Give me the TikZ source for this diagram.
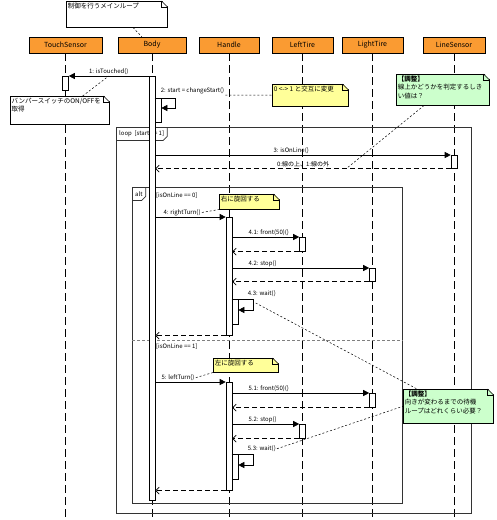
\documentclass[tikz,border=0pt]{standalone}
\usepackage{fontspec}
\setmainfont{Noto Sans CJK JP}
\usetikzlibrary{positioning,arrows.meta,calc}

\definecolor{headfill}{RGB}{250,155,50}
\definecolor{memoyellow}{RGB}{255,255,153}
\definecolor{memogreen}{RGB}{204,255,204}

\newcommand{\hdfont}{\fontsize{7}{8}\selectfont}
\newcommand{\msgfont}{\fontsize{6}{7}\selectfont}
\newcommand{\memofont}{\fontsize{6.5}{8.5}\selectfont}
\newcommand{\memotext}[3]{\parbox[c][#2][t]{#1}{\raggedright #3}}
% folded corner of a memo
\newcommand{\memofold}[1]{%
  \fill[white] ($(#1.north east)+(-6,-1)$) -- ($(#1.north east)+(1,-1)$) -- ($(#1.north east)+(1,6)$) -- cycle;
  \draw[line width=0.5pt] ($(#1.north east)+(-6,0)$) -- ($(#1.north east)+(0,6)$);
  \draw[line width=0.5pt] ($(#1.north east)+(-6,0)$) -- ($(#1.north east)+(-6,6)$) -- ($(#1.north east)+(0,6)$);}

\begin{document}
\begin{tikzpicture}[
    x=1pt, y=-1pt,
    head/.style={draw, line width=0.7pt, fill=headfill, minimum height=16, inner sep=1pt, font=\hdfont},
    life/.style={line width=0.7pt, dash pattern=on 8pt off 4pt},
    act/.style={draw, line width=0.6pt, fill=white, minimum width=6, inner sep=0, anchor=north},
    call/.style={-{Triangle[length=6pt,width=6pt]}, line width=0.6pt},
    ret/.style={-{Straight Barb[length=3.5pt,width=7pt]}, line width=0.6pt, dash pattern=on 5pt off 3pt},
    lbl/.style={font=\msgfont, inner sep=1pt},
    link/.style={line width=0.5pt, dash pattern=on 2pt off 2pt},
    frm/.style={draw, line width=0.7pt, black!80, inner sep=0, anchor=north west},
    frline/.style={line width=0.7pt, black!80},
    tag/.style={font=\msgfont, inner sep=2pt, inner xsep=3pt, minimum height=13, anchor=north west},
    sepline/.style={line width=0.7pt, black!50, dash pattern=on 3pt off 2pt},
    memo/.style={draw, line width=0.5pt, inner sep=1.5pt, anchor=north west, font=\memofont}
]
\useasboundingbox (0,0) rectangle (497,520);

% =========================================================
% Lifelines
% =========================================================
\node[head, minimum width=73] (touch)      at (65.5,45)  {TouchSensor};
\node[head, minimum width=68] (body)       at (152,45)   {Body};
\node[head, minimum width=60] (handle)     at (229,45)   {Handle};
\node[head, minimum width=61] (lefttire)   at (302.5,45) {LeftTire};
\node[head, minimum width=61] (lighttire)  at (372.5,45) {LightTire};
\node[head, minimum width=62] (linesensor) at (454,45)   {LineSensor};

\coordinate (bottom) at (0,520);
\foreach \h in {touch,body,handle,lefttire,lighttire,linesensor}
  \draw[life] (\h.south) -- (\h.south |- bottom);

% =========================================================
% Combined fragments
% =========================================================
\node[frm, minimum width=355, minimum height=386] (loop) at (116,127) {};
\node[tag] (loop_t) at (loop.north west) {loop\ \ [start == 1]};
\draw[frline] (loop_t.north east) -- ($(loop_t.south east)+(0,-4)$) -- ($(loop_t.south east)+(-4,0)$) -- (loop_t.south west);

\node[frm, minimum width=270, minimum height=316] (alt) at (132,187) {};
\node[tag] (alt_t) at (alt.north west) {alt};
\draw[frline] (alt_t.north east) -- ($(alt_t.south east)+(0,-4)$) -- ($(alt_t.south east)+(-4,0)$) -- (alt_t.south west);
\node[lbl, anchor=west] (g0) at (155,196) {[isOnLine == 0]};
\coordinate (alt_sep) at (132,340);
\draw[sepline] (alt_sep) -- (alt_sep -| alt.east);
\node[lbl, anchor=west] (g1) at (155,347) {[isOnLine == 1]};

% =========================================================
% Activations
% =========================================================
\node[act, minimum height=14]  (ts_a)    at (65.5,76)  {};
\node[act, minimum height=424] (body_a)  at (152,76)   {};
\node[act, minimum height=24]  (body_a2) at (158,98)   {};
\node[act, minimum height=13]  (ls_a)    at (454,155)  {};
\node[act, minimum height=118] (hd_a1)   at (229,217)  {};
\node[act, minimum height=14]  (lt_a1)   at (302.5,237) {};
\node[act, minimum height=13]  (ltt_a1)  at (372.5,268) {};
\node[act, minimum height=25]  (hd_a1w)  at (235,299)  {};
\node[act, minimum height=108] (hd_a2)   at (229,382)  {};
\node[act, minimum height=14]  (ltt_a2)  at (372.5,393) {};
\node[act, minimum height=14]  (lt_a2)   at (302.5,424) {};
\node[act, minimum height=25]  (hd_a2w)  at (235,454)  {};

% =========================================================
% Messages
% =========================================================
\draw[call] (body_a.north west) -- (ts_a.north east) node[lbl, midway, above] (m1) {1: isTouched()};

\draw[call] (body_a2.north west) -- ++(21,0) |- ($(body_a2.north east)+(0,10)$);
\node[lbl, anchor=south west] (m2) at ($(body_a2.north west)+(5,-3)$) {2: start = changeStart()};

\draw[call] (body_a.east |- ls_a.north) -- (ls_a.north west) node[lbl, pos=0.46, above] (m3) {3: isOnLine()};
\draw[ret] (ls_a.south west) -- (body_a.east |- ls_a.south) node[lbl, midway, above] (r3) {0:線の上、1:線の外};

% isOnLine == 0
\draw[call] (body_a.east |- hd_a1.north) -- (hd_a1.north west) node[lbl, at start, above right, xshift=7] (m4) {4: rightTurn()};
\draw[call] (hd_a1.east |- lt_a1.north) -- (lt_a1.north west) node[lbl, at start, above right, xshift=15] (m41) {4.1: front(50)()};
\draw[ret] (lt_a1.south west) -- (hd_a1.east |- lt_a1.south);
\draw[call] (hd_a1.east |- ltt_a1.north) -- (ltt_a1.north west) node[lbl, at start, above right, xshift=15] (m42) {4.2: stop()};
\draw[ret] (ltt_a1.south west) -- (hd_a1.east |- ltt_a1.south);
\draw[call] (hd_a1w.north west) -- ++(22,0) coordinate (w1) |- ($(hd_a1w.north east)+(0,11)$);
\node[lbl, anchor=south west] (m43) at ($(hd_a1w.north west)+(15,-1)$) {4.3: wait()};
\draw[ret] (hd_a1.south west) -- (body_a.east |- hd_a1.south);

% isOnLine == 1
\draw[call] (body_a.east |- hd_a2.north) -- (hd_a2.north west) node[lbl, at start, above right, xshift=5] (m5) {5: leftTurn()};
\draw[call] (hd_a2.east |- ltt_a2.north) -- (ltt_a2.north west) node[lbl, at start, above right, xshift=15] (m51) {5.1: front(50)()};
\draw[ret] (ltt_a2.south west) -- (hd_a2.east |- ltt_a2.south);
\draw[call] (hd_a2.east |- lt_a2.north) -- (lt_a2.north west) node[lbl, at start, above right, xshift=15] (m52) {5.2: stop()};
\draw[ret] (lt_a2.south west) -- (hd_a2.east |- lt_a2.south);
\draw[call] (hd_a2w.north west) -- ++(22,0) |- ($(hd_a2w.north east)+(0,11)$);
\node[lbl, anchor=south west] (m53) at ($(hd_a2w.north west)+(15,-1)$) {5.3: wait()};
\draw[ret] (hd_a2.south west) -- (body_a.east |- hd_a2.south);

% =========================================================
% Memos
% =========================================================
\node[memo, fill=white] (n0) at (66,1) {\memotext{98pt}{23pt}{制御を行うメインループ}};
\memofold{n0}
\node[memo, fill=white] (n1) at (10,96) {\memotext{96pt}{25pt}{バンパースイッチのON/OFFを\\取得}};
\memofold{n1}
\node[memo, fill=memoyellow] (n2) at (272,84) {\memotext{73pt}{19pt}{0 <-> 1 と交互に変更}};
\memofold{n2}
\node[memo, fill=memogreen] (n3) at (396,74) {\memotext{90pt}{28pt}{\textbf{【調整】}\\線上かどうかを判定するしき\\い値は？}};
\memofold{n3}
\node[memo, fill=memoyellow] (n4) at (219,194) {\memotext{57pt}{12pt}{右に旋回する}};
\memofold{n4}
\node[memo, fill=memoyellow] (n6) at (213,358) {\memotext{62pt}{11pt}{左に旋回する}};
\memofold{n6}
\node[memo, fill=memogreen] (n5) at (403,389) {\memotext{87pt}{31pt}{\textbf{【調整】}\\向きが変わるまでの待機\\ループはどれくらい必要？}};
\memofold{n5}

\draw[link] ($(n0.south west)!0.66!(n0.south east)$) -- ($(body.north west)!0.35!(body.north east)$);
\draw[link] ($(n1.north west)!0.73!(n1.north east)$) -- (m1.south);
\draw[link] (m2.south east) -- (n2.west);
\draw[link] ($(n3.south west)!0.3!(n3.south east)$) -- ([xshift=16pt]r3.south east);
\draw[link] (m4.east) -- (n4.south west);
\draw[link] (m5.east) -- (n6.south west);
\draw[link] ($(w1)+(2,4)$) -- ($(n5.north west)+(14,0)$);
\draw[link] (m53.east) -- (n5.west);

\end{tikzpicture}
\end{document}
